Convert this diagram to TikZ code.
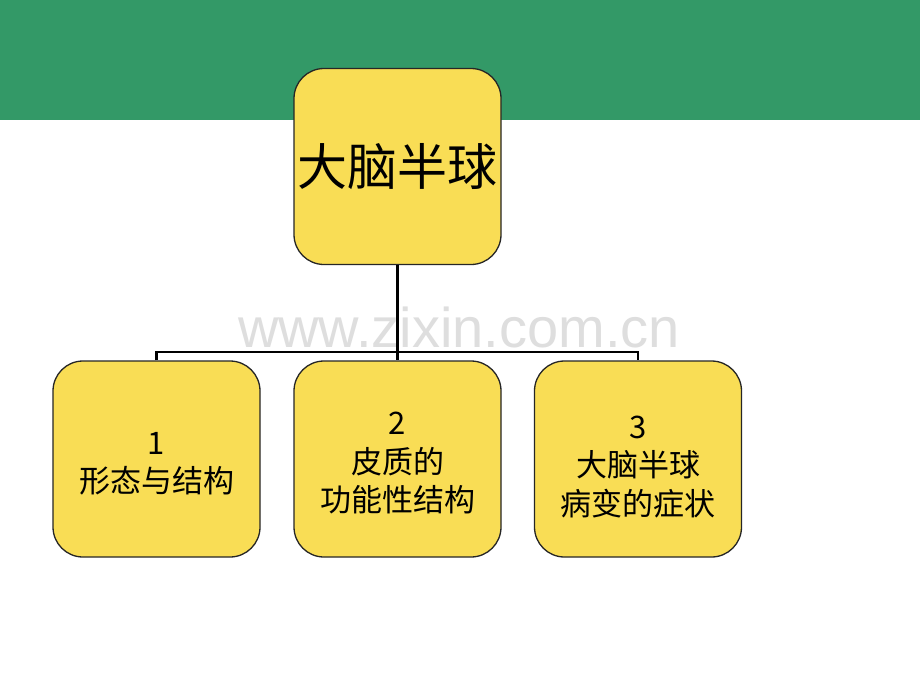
\documentclass[tikz,border=0pt]{standalone}
\usepackage{fontspec}
\setmainfont{Noto Sans CJK SC}
\newfontfamily\wmfont{Liberation Sans}
\begin{document}
\begin{tikzpicture}[x=1pt,y=-1pt,
  box/.style={draw=black!85,line width=1.3pt,fill=boxyellow,rounded corners=30pt,
    minimum width=207pt,minimum height=196pt,inner sep=0pt},
  conn/.style={line width=2.6pt,black},
  childtext/.style={font=\fontsize{31}{38.5}\selectfont,align=center,inner sep=0pt}]
\definecolor{boxyellow}{RGB}{249,221,85}
\definecolor{bandgreen}{RGB}{51,153,103}
\useasboundingbox (0,0) rectangle (920,690);
\fill[white] (0,0) rectangle (920,690);
\fill[bandgreen] (0,0) rectangle (920,120);
\node[text=black!13,font=\wmfont\fontsize{56}{56}\selectfont] (wm) at (459,327) {www.zixin.com.cn};
\node[box,font=\fontsize{50}{52}\selectfont] (root) at (397.5,166.5) {大脑半球};
\node[box] (c1) at (156.5,459) {};
\node[box] (c2) at (397.5,459) {};
\node[box] (c3) at (638,459) {};
\node[childtext] (t1) at ([yshift=-5pt]c1.center) {1\\形态与结构};
\node[childtext] (t2) at ([yshift=-4pt]c2.center) {2\\皮质的\\功能性结构};
\node[childtext] (t3) at ([yshift=-8pt]c3.center) {3\\大脑半球\\病变的症状};
\coordinate (j) at (397.5,352);
\draw[conn] (root.south) -- (j);
\draw[conn] (c1.north) |- (j) -| (c3.north);
\draw[conn] (j) -- (c2.north);
\end{tikzpicture}
\end{document}
